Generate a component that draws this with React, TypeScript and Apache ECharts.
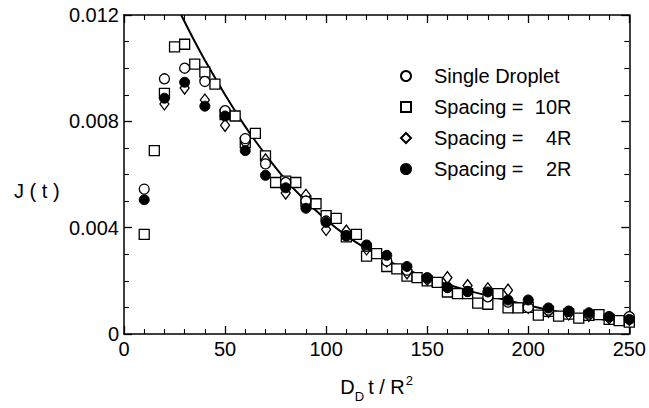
import React, { useEffect, useRef } from "react";
import * as echarts from "echarts";

// x values (D_D t / R^2) and J(t) values (in units of 0.001)
const singleX = [10, 20, 30, 40, 50, 60, 70, 80, 90, 100, 110, 120, 130, 140, 150, 160, 170, 180, 190, 200, 210, 220, 230, 240, 250];
const singleY = [5.45, 9.6, 10.0, 9.5, 8.4, 7.35, 6.4, 5.7, 5.0, 4.25, 3.7, 3.3, 2.75, 2.4, 2.1, 1.75, 1.6, 1.4, 1.2, 1.0, 0.9, 0.85, 0.75, 0.65, 0.65];

const sp10X = [10, 15, 20, 25, 30, 35, 40, 45, 50, 55, 60, 65, 70, 75, 80, 85, 90, 95, 100, 105, 110, 115, 120, 125, 130, 135, 140, 145, 150, 155, 160, 165, 170, 175, 180, 185, 190, 195, 200, 205, 210, 215, 220, 225, 230, 235, 240, 245, 250];
const sp10Y = [3.75, 6.9, 9.05, 10.8, 10.9, 10.15, 9.85, 9.4, 8.25, 8.2, 7.2, 7.55, 6.7, 5.7, 5.75, 5.7, 5.0, 4.9, 4.45, 4.35, 3.65, 3.75, 2.93, 3.02, 2.54, 2.45, 2.18, 2.12, 2.0, 1.94, 1.58, 1.52, 1.52, 1.16, 1.12, 1.52, 0.98, 0.98, 1.0, 0.71, 0.85, 0.67, 0.75, 0.6, 0.7, 0.73, 0.55, 0.5, 0.45];

const sp4X = [20, 30, 40, 50, 60, 70, 80, 90, 100, 110, 120, 130, 140, 150, 160, 170, 180, 190, 200, 210, 220, 230, 240, 250];
const sp4Y = [8.65, 9.25, 8.8, 7.85, 7.2, 6.55, 5.3, 5.22, 3.93, 3.87, 3.2, 2.75, 2.3, 2.05, 2.12, 1.82, 1.7, 1.65, 1.0, 0.85, 0.75, 0.7, 0.6, 0.55];

const sp2X = [10, 20, 30, 40, 50, 60, 70, 80, 90, 100, 110, 120, 130, 140, 150, 160, 170, 180, 190, 200, 210, 220, 230, 240, 250];
const sp2Y = [5.05, 8.87, 9.47, 8.57, 8.2, 6.9, 5.97, 5.5, 4.73, 4.2, 3.69, 3.35, 2.96, 2.54, 2.12, 1.75, 1.6, 1.58, 1.28, 1.28, 0.98, 0.86, 0.8, 0.64, 0.55];

const curveX = [28.3, 35, 40, 50, 60, 70, 80, 90, 100, 110, 120, 130, 140, 150, 160, 170, 185, 200, 217, 234, 250];
const curveY = [12.0, 11.0, 10.3, 9.0, 7.8, 6.75, 5.8, 5.0, 4.3, 3.7, 3.2, 2.78, 2.42, 2.12, 1.86, 1.64, 1.35, 1.08, 0.8, 0.58, 0.4];

const seriesNames = ["Single Droplet", "Spacing = 10R", "Spacing = 4R", "Spacing = 2R"];
const xTicks = [0, 50, 100, 150, 200, 250];
const yTicks = [0, 0.004, 0.008, 0.012];

const FONT = "Liberation Sans";

const pairs = (xs: number[], ys: number[]) => xs.map((x, i) => [x, ys[i] / 1000]);

export default function App() {
  const ref = useRef<HTMLDivElement>(null);
  useEffect(() => {
    if (!ref.current) return;
    const chart = echarts.init(ref.current, null, { renderer: "svg" });
    const line = () => ({ show: true, onZero: false, lineStyle: { color: "#000", width: 1.5 } });
    const tick = () => ({ show: true, inside: true, length: 8, lineStyle: { color: "#000", width: 1.3 } });
    const minor = (n: number) => ({ show: true, splitNumber: n, length: 5, lineStyle: { color: "#000", width: 1.1 } });
    const openStyle = { color: "#fff", borderColor: "#000", borderWidth: 1.3, opacity: 1 };
    chart.setOption({
      animation: false,
      backgroundColor: "#fff",
      grid: { left: 124, right: 17, top: 15, bottom: 61, containLabel: false },
      xAxis: [
        {
          type: "value",
          min: xTicks[0],
          max: xTicks[xTicks.length - 1],
          interval: 50,
          position: "bottom",
          axisLine: line(),
          axisTick: tick(),
          minorTick: minor(5),
          splitLine: { show: false },
          axisLabel: { color: "#000", fontFamily: FONT, fontSize: 20, margin: 5 },
          name: "{a|D}{s|D}{a|t / R}{p|2}",
          nameLocation: "middle",
          nameGap: 40,
          nameTextStyle: {
            rich: {
              a: { fontFamily: FONT, fontSize: 20, color: "#000", verticalAlign: "bottom" },
              s: { fontFamily: FONT, fontSize: 13, color: "#000", padding: [0, 4, -6, 0], verticalAlign: "bottom" },
              p: { fontFamily: FONT, fontSize: 13, color: "#000", padding: [0, 0, 10, 1], verticalAlign: "bottom" },
            },
          },
        },
        {
          type: "value",
          min: xTicks[0],
          max: xTicks[xTicks.length - 1],
          interval: 50,
          position: "top",
          axisLine: line(),
          axisTick: tick(),
          minorTick: minor(5),
          splitLine: { show: false },
          axisLabel: { show: false },
        },
      ],
      yAxis: [
        {
          type: "value",
          min: yTicks[0],
          max: yTicks[yTicks.length - 1],
          interval: 0.004,
          position: "left",
          axisLine: line(),
          axisTick: tick(),
          minorTick: minor(4),
          splitLine: { show: false },
          axisLabel: {
            color: "#000",
            fontFamily: FONT,
            fontSize: 20,
            margin: 5,
            formatter: (v: number) => (v === 0 ? "0" : v.toFixed(3)),
          },
        },
        {
          type: "value",
          min: yTicks[0],
          max: yTicks[yTicks.length - 1],
          interval: 0.004,
          position: "right",
          axisLine: line(),
          axisTick: tick(),
          minorTick: minor(4),
          splitLine: { show: false },
          axisLabel: { show: false },
        },
      ],
      legend: {
        orient: "vertical",
        left: 400,
        top: 66,
        itemGap: 11,
        itemWidth: 10,
        itemHeight: 10,
        padding: 0,
        data: seriesNames,
        selectedMode: false,
        formatter: (name: string) => {
          const m = name.match(/^(Spacing =)\s*(.*)$/);
          if (m) return `{s|}{a|${m[1]}}{b|${m[2]}}`;
          return `{s|}{a|${name}}`;
        },
        textStyle: {
          color: "#000",
          fontFamily: FONT,
          fontSize: 20,
          rich: {
            s: { width: 18 },
            a: { fontFamily: FONT, fontSize: 20, color: "#000" },
            b: { fontFamily: FONT, fontSize: 20, color: "#000", width: 48, align: "right" },
          },
        },
      },
      series: [
        {
          type: "line",
          name: "curve",
          data: pairs(curveX, curveY),
          showSymbol: false,
          symbol: "none",
          smooth: 0.4,
          lineStyle: { color: "#000", width: 2 },
          silent: true,
          z: 1,
        },
        {
          type: "scatter",
          name: seriesNames[1],
          data: pairs(sp10X, sp10Y),
          symbol: "rect",
          symbolSize: 10,
          itemStyle: openStyle,
          silent: true,
          z: 2,
        },
        {
          type: "scatter",
          name: seriesNames[2],
          data: pairs(sp4X, sp4Y),
          symbol: "diamond",
          symbolSize: [9, 12],
          itemStyle: openStyle,
          silent: true,
          z: 3,
        },
        {
          type: "scatter",
          name: seriesNames[0],
          data: pairs(singleX, singleY),
          symbol: "circle",
          symbolSize: 10,
          itemStyle: openStyle,
          silent: true,
          z: 4,
        },
        {
          type: "scatter",
          name: seriesNames[3],
          data: pairs(sp2X, sp2Y),
          symbol: "circle",
          symbolSize: 10,
          itemStyle: { color: "#000", borderColor: "#000", borderWidth: 1, opacity: 1 },
          silent: true,
          z: 5,
        },
      ],
      graphic: [
        {
          type: "text",
          left: 14,
          top: 181,
          style: { text: "J ( t )", fontFamily: FONT, fontSize: 20, fill: "#000" },
        },
      ],
    });
    return () => chart.dispose();
  }, []);
  return <div ref={ref} style={{ width: 649, height: 408, position: "absolute", left: 0, top: 0 }} />;
}
